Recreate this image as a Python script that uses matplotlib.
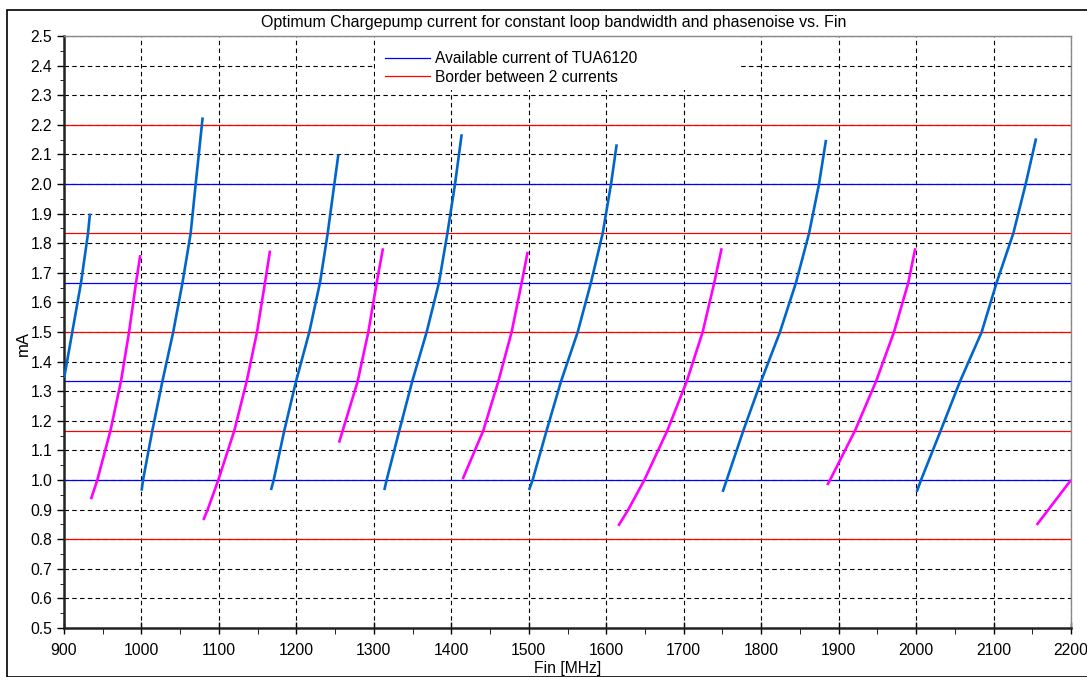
import matplotlib
matplotlib.use("Agg")
import matplotlib.pyplot as plt
from matplotlib.patches import Rectangle
from matplotlib.ticker import MultipleLocator

plt.rcParams['font.family'] = ['Liberation Sans', 'DejaVu Sans']

title = "Optimum Chargepump current for constant loop bandwidth and phasenoise vs. Fin"
xlabel = "Fin [MHz]"
ylabel = "mA"
x_ticks = [900, 1000, 1100, 1200, 1300, 1400, 1500, 1600, 1700, 1800, 1900, 2000, 2100, 2200]
y_ticks = [0.5, 0.6, 0.7, 0.8, 0.9, 1.0, 1.1, 1.2, 1.3, 1.4, 1.5, 1.6, 1.7, 1.8, 1.9, 2.0,
           2.1, 2.2, 2.3, 2.4, 2.5]

available_currents = [2.0, 1.667, 1.333, 1.0]
border_currents = [2.2, 1.833, 1.5, 1.167, 0.8]

# blue segments (optimum current, rising branch)
blue_fin = [
    [900.2, 910.7, 922.0, 931.0, 933.5],
    [1000.2, 1002.0, 1014.0, 1027.0, 1041.0, 1053.0, 1063.5, 1070.0, 1079.0],
    [1167.2, 1170.7, 1184.4, 1199.5, 1216.7, 1230.5, 1240.4, 1249.0, 1254.2],
    [1313.5, 1316.5, 1332.9, 1349.5, 1368.2, 1384.1, 1394.9, 1404.8, 1413.4],
    [1500.3, 1505.0, 1523.0, 1541.6, 1563.2, 1580.3, 1595.4, 1606.2, 1613.5],
    [1750.3, 1755.5, 1777.0, 1799.8, 1824.3, 1845.0, 1861.8, 1874.7, 1883.7],
    [2000.8, 2006.4, 2031.8, 2056.7, 2084.7, 2104.0, 2125.5, 2141.5, 2154.9],
]
blue_ma = [
    [1.345, 1.5, 1.667, 1.833, 1.90],
    [0.964, 1.0, 1.167, 1.333, 1.5, 1.667, 1.833, 2.0, 2.225],
    [0.966, 1.0, 1.167, 1.333, 1.5, 1.667, 1.833, 2.0, 2.100],
    [0.966, 1.0, 1.167, 1.333, 1.5, 1.667, 1.833, 2.0, 2.168],
    [0.966, 1.0, 1.167, 1.333, 1.5, 1.667, 1.833, 2.0, 2.134],
    [0.960, 1.0, 1.167, 1.333, 1.5, 1.667, 1.833, 2.0, 2.149],
    [0.960, 1.0, 1.167, 1.333, 1.5, 1.667, 1.833, 2.0, 2.154],
]

# magenta segments
magenta_fin = [
    [934.8, 943.0, 960.0, 973.5, 984.0, 993.0, 998.5],
    [1079.9, 1085.5, 1099.2, 1119.9, 1135.8, 1149.2, 1159.5, 1166.0],
    [1255.0, 1259.8, 1279.1, 1292.9, 1303.7, 1311.8],
    [1414.7, 1441.3, 1460.7, 1477.9, 1490.9, 1498.6],
    [1615.6, 1628.5, 1649.2, 1678.9, 1703.9, 1724.5, 1739.5, 1749.0],
    [1885.4, 1888.9, 1921.2, 1948.3, 1971.5, 1990.0, 1999.0],
    [2155.7, 2200.0],
]
magenta_ma = [
    [0.935, 1.0, 1.167, 1.333, 1.5, 1.667, 1.76],
    [0.865, 0.9, 1.0, 1.167, 1.333, 1.5, 1.667, 1.775],
    [1.126, 1.167, 1.333, 1.5, 1.667, 1.783],
    [1.003, 1.167, 1.333, 1.5, 1.667, 1.771],
    [0.845, 0.9, 1.0, 1.167, 1.333, 1.5, 1.667, 1.783],
    [0.983, 1.0, 1.167, 1.333, 1.5, 1.667, 1.783],
    [0.848, 1.0],
]

W, H = 1087, 677
fig = plt.figure(figsize=(W / 100, H / 100), dpi=100)
fig.patch.set_facecolor('white')

# outer frame
fig.add_artist(Rectangle((7 / W, 0), 1.2, 1 - 10 / H, transform=fig.transFigure,
                         fill=False, edgecolor='black', linewidth=1.2))

left, right, top, bottom = 64, 1071, 36, 628
ax = fig.add_axes([left / W, 1 - bottom / H, (right - left) / W, (bottom - top) / H])

ax.set_xlim(900, 2200)
ax.set_ylim(0.5, 2.5)
ax.set_xticks(x_ticks)
ax.set_yticks(y_ticks)
ax.set_yticklabels([f"{v:.1f}" for v in y_ticks])
ax.xaxis.set_minor_locator(MultipleLocator(50))
ax.yaxis.set_minor_locator(MultipleLocator(0.05))
ax.tick_params(axis='both', which='major', labelsize=11.3, colors='black', width=1.0)
ax.tick_params(axis='y', which='major', direction='out', length=5, pad=3.5)
ax.tick_params(axis='y', which='minor', direction='out', length=3)
ax.tick_params(axis='x', which='major', direction='inout', length=8, pad=7)
ax.tick_params(axis='x', which='minor', direction='out', length=4)

ax.grid(True, which='major', color='black', linestyle=(0, (4, 3)), linewidth=0.8)
ax.set_axisbelow(True)

for side in ['left', 'bottom']:
    ax.spines[side].set_linewidth(1.8)
    ax.spines[side].set_color('#222222')
for side in ['top', 'right']:
    ax.spines[side].set_linewidth(1.0)
    ax.spines[side].set_color('#888888')

# legend background
ax.add_patch(Rectangle((0.309, 0.909), 0.3625, 0.091, transform=ax.transAxes,
                       facecolor='white', edgecolor='none', zorder=1.5))

for i, v in enumerate(available_currents):
    ax.axhline(v, color='#0000ff', linewidth=0.9, zorder=2,
               label="Available current of TUA6120" if i == 0 else None)
for i, v in enumerate(border_currents):
    ax.axhline(v, color='#ff0000', linewidth=0.9, zorder=2,
               label="Border between 2 currents" if i == 0 else None)

for xs, ys in zip(blue_fin, blue_ma):
    ax.plot(xs, ys, color='#0066cc', linewidth=1.9, zorder=3, solid_capstyle='butt')
for xs, ys in zip(magenta_fin, magenta_ma):
    ax.plot(xs, ys, color='#ff00ff', linewidth=1.9, zorder=3, solid_capstyle='butt')

leg = ax.legend(loc='upper left', bbox_to_anchor=(0.319, 0.974), frameon=False,
                fontsize=11.2, handlelength=2.9, handletextpad=0.33,
                labelspacing=0.22, borderaxespad=0, borderpad=0)

fig.text(554 / W, 1 - 22 / H, title, ha='center', va='center', fontsize=11.5)
ax.set_xlabel(xlabel, fontsize=11.3)
ax.xaxis.label.set_va('center')
ax.xaxis.set_label_coords((568 - left) / (right - left), -(668 - bottom) / (bottom - top))
ax.set_ylabel(ylabel, fontsize=12)
ax.yaxis.label.set_va('center')
ax.yaxis.label.set_ha('center')
ax.yaxis.set_label_coords((23 - left) / (right - left), (bottom - 343) / (bottom - top))

fig.savefig("out.png", dpi=100)
